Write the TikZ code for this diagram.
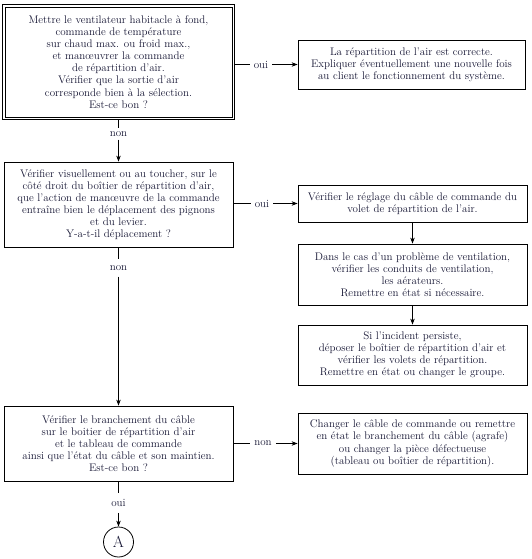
\documentclass[tikz,border=0pt]{standalone}
\usetikzlibrary{arrows.meta}
\definecolor{encre}{RGB}{22,22,52}

\begin{document}
\begin{tikzpicture}[x=1pt, y=-1pt,
    boite/.style={draw, line width=0.8pt, text=encre, align=center, inner sep=2pt,
      font=\fontsize{11}{12.1}\selectfont, minimum width=229pt},
    etiquette/.style={text=encre, font=\fontsize{11}{12}\selectfont, inner sep=4pt},
    fleche/.style={-{Stealth[length=6pt,width=4.5pt]}, line width=0.8pt}]
    \useasboundingbox (0,0) rectangle (531,559);
    % Questions
    \node[boite, line width=0.7pt, minimum width=227pt, minimum height=110pt] at (118.5,62) (q1)
      {Mettre le ventilateur habitacle à fond,\\ commande de température\\ sur chaud max. ou froid max.,\\
       et manœuvrer la commande\\ de répartition d’air.\\ Vérifier que la sortie d’air\\
       corresponde bien à la sélection.\\ Est-ce bon ?};
    \draw[line width=0.7pt] ([shift={(-1.9pt,1.9pt)}]q1.north west) rectangle ([shift={(1.9pt,-1.9pt)}]q1.south east);
    \node[boite, minimum height=85pt] at (118.5,204.5) (q2)
      {Vérifier visuellement ou au toucher, sur le\\ côté droit du boîtier de répartition d’air,\\
       que l’action de manœuvre de la commande\\ entraîne bien le déplacement des pignons\\
       et du levier.\\ Y-a-t-il déplacement ?};
    \node[boite, minimum height=75pt] at (118.5,443.5) (q3)
      {Vérifier le branchement du câble\\ sur le boitier de répartition d’air\\ et le tableau de commande\\
       ainsi que l’état du câble et son maintien.\\ Est-ce bon ?};
    % Actions
    \node[boite, minimum width=227pt, minimum height=49pt] at (411.5,64.5) (r1)
      {La répartition de l’air est correcte.\\ Expliquer éventuellement une nouvelle fois\\
       au client le fonctionnement du système.};
    \node[boite, minimum height=37pt] at (412.5,203.5) (r2)
      {Vérifier le réglage du câble de commande du\\ volet de répartition de l’air.};
    \node[boite, minimum height=61pt] at (412.5,274.5) (r3)
      {Dans le cas d’un problème de ventilation,\\ vérifier les conduits de ventilation,\\
       les aérateurs.\\ Remettre en état si nécessaire.};
    \node[boite, minimum height=60pt] at (412.5,355) (r4)
      {Si l’incident persiste,\\ déposer le boîtier de répartition d’air et\\
       vérifier les volets de répartition.\\ Remettre en état ou changer le groupe.};
    \node[boite, minimum height=61pt] at (412.5,443.5) (r5)
      {Changer le câble de commande ou remettre\\ en état le branchement du câble (agrafe)\\
       ou changer la pièce défectueuse\\ (tableau ou boîtier de répartition).};
    \node[draw, circle, line width=0.8pt, minimum size=30pt, inner sep=0pt, text=encre,
      font=\fontsize{16}{16}\selectfont] at (118.5,542) (A) {A};
    % Etiquettes
    \node[etiquette] at (261,64.5) (o1) {oui};
    \node[etiquette, inner sep=3pt] at (118.5,134) (n1) {non};
    \node[etiquette] at (262,203.5) (o2) {oui};
    \node[etiquette, inner sep=6pt] at (118.5,268) (n2) {non};
    \node[etiquette] at (263,443.5) (n3) {non};
    \node[etiquette, inner sep=6pt] at (118.5,503) (o3) {oui};
    % Liaisons
    \draw[line width=0.8pt] ([xshift=1.9pt]q1.east |- o1) -- (o1.west);
    \draw[fleche] (o1.east) -- (r1.west);
    \draw[line width=0.8pt] ([yshift=-1.9pt]q1.south) -- (n1.north);
    \draw[fleche] (n1.south) -- (q2.north);
    \draw[line width=0.8pt] (q2.east |- o2) -- (o2.west);
    \draw[fleche] (o2.east) -- (r2.west);
    \draw[fleche] (r2.south) -- (r3.north);
    \draw[fleche] (r3.south) -- (r4.north);
    \draw[line width=0.8pt] (q2.south) -- (n2.north);
    \draw[fleche] (n2.south) -- (q3.north);
    \draw[line width=0.8pt] (q3.east) -- (n3.west);
    \draw[fleche] (n3.east) -- (r5.west);
    \draw[line width=0.8pt] (q3.south) -- (o3.north);
    \draw[fleche] (o3.south) -- (A.north);
  \end{tikzpicture}
\end{document}
